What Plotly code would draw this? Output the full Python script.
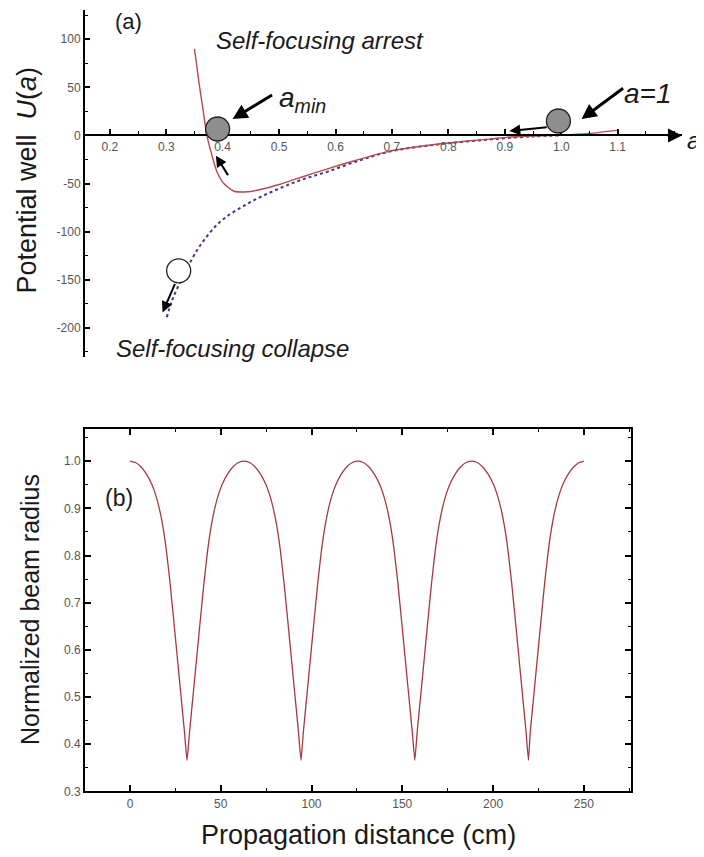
import plotly.graph_objects as go

# ---------------- Panel (a): potential well ----------------
a_red = [0.350, 0.358, 0.365, 0.372, 0.381, 0.390, 0.402, 0.420, 0.444, 0.467, 0.500, 0.526,
         0.560, 0.609, 0.645, 0.698, 0.750, 0.787, 0.840, 0.876, 0.906, 0.950, 1.000, 1.050, 1.100]
U_red = [89.9, 54.8, 27.3, 0.0, -20.8, -38.0, -50.0, -58.0, -58.6, -56.2, -51.0, -46.0,
         -39.5, -30.5, -24.3, -16.0, -11.2, -8.6, -5.5, -3.6, -1.8, -0.6, 0.3, 2.0, 5.5]

a_blue = [0.301, 0.310, 0.325, 0.339, 0.361, 0.396, 0.444, 0.491, 0.538, 0.586, 0.645, 0.698,
          0.787, 0.876, 0.950, 1.000]
U_blue = [-189.0, -172.0, -152.0, -135.6, -113.6, -89.5, -71.0, -57.5, -46.5, -37.6, -25.5, -16.5,
          -9.0, -4.0, -1.0, 0.0]

xa_tickvals = [0.2, 0.3, 0.4, 0.5, 0.6, 0.7, 0.8, 0.9, 1.0, 1.1]
xa_ticktext = ["0.2", "0.3", "0.4", "0.5", "0.6", "0.7", "0.8", "0.9", "1.0", "1.1"]
ya_tickvals = [100, 50, 0, -50, -100, -150, -200]
ya_ticktext = ["100", "50", "0", "-50", "-100", "-150", "-200"]

# ---------------- Panel (b): beam radius ----------------
z_cm = [0, 3, 6, 9, 12, 14, 16, 18, 20, 22, 24, 26, 28, 30, 31.4,
        32.8, 34.8, 36.8, 38.8, 40.8, 42.8, 44.8, 46.8, 48.8, 50.8, 53.8, 56.8, 59.8, 62.8,
        65.8, 68.8, 71.8, 74.8, 76.8, 78.8, 80.8, 82.8, 84.8, 86.8, 88.8, 90.8, 92.8, 94.2,
        95.5, 97.5, 99.5, 101.5, 103.5, 105.5, 107.5, 109.5, 111.5, 113.5, 116.5, 119.5, 122.5, 125.5,
        128.5, 131.5, 134.5, 137.5, 139.5, 141.5, 143.5, 145.5, 147.5, 149.5, 151.5, 153.5, 155.5, 156.9,
        158.2, 160.2, 162.2, 164.2, 166.2, 168.2, 170.2, 172.2, 174.2, 176.2, 179.2, 182.2, 185.2, 188.2,
        191.2, 194.2, 197.2, 200.2, 202.2, 204.2, 206.2, 208.2, 210.2, 212.2, 214.2, 216.2, 218.2, 219.5,
        220.5, 222.5, 224.5, 226.5, 228.5, 230.5, 232.5, 234.5, 236.5, 238.5, 241.5, 244.5, 247.5, 250]
radius = [1.0, 0.997, 0.988, 0.973, 0.951, 0.930, 0.902, 0.864, 0.812, 0.744, 0.666, 0.586, 0.506, 0.426, 0.366,
          0.426, 0.506, 0.586, 0.666, 0.744, 0.812, 0.864, 0.902, 0.930, 0.951, 0.973, 0.988, 0.997, 1.0,
          0.997, 0.988, 0.973, 0.951, 0.930, 0.902, 0.864, 0.812, 0.744, 0.666, 0.586, 0.506, 0.426, 0.366,
          0.426, 0.506, 0.586, 0.666, 0.744, 0.812, 0.864, 0.902, 0.930, 0.951, 0.973, 0.988, 0.997, 1.0,
          0.997, 0.988, 0.973, 0.951, 0.930, 0.902, 0.864, 0.812, 0.744, 0.666, 0.586, 0.506, 0.426, 0.366,
          0.426, 0.506, 0.586, 0.666, 0.744, 0.812, 0.864, 0.902, 0.930, 0.951, 0.973, 0.988, 0.997, 1.0,
          0.997, 0.988, 0.973, 0.951, 0.930, 0.902, 0.864, 0.812, 0.744, 0.666, 0.586, 0.506, 0.426, 0.366,
          0.426, 0.506, 0.586, 0.666, 0.744, 0.812, 0.864, 0.902, 0.930, 0.951, 0.973, 0.988, 0.997, 1.0]

xb_tickvals = [0, 50, 100, 150, 200, 250]
xb_ticktext = ["0", "50", "100", "150", "200", "250"]
yb_tickvals = [0.3, 0.4, 0.5, 0.6, 0.7, 0.8, 0.9, 1.0]
yb_ticktext = ["0.3", "0.4", "0.5", "0.6", "0.7", "0.8", "0.9", "1.0"]

# the page body has an 8 px default margin, so the figure is made 8 px smaller
OFF = 8
W, H = 704 - OFF, 857 - OFF
FONT = "Liberation Sans, Arial, sans-serif"


def px(x):
    return (x - OFF) / W


def py(y):
    return 1 - (y - OFF) / H


fig = go.Figure()

fig.add_trace(go.Scatter(x=a_blue, y=U_blue, mode="lines", xaxis="x", yaxis="y",
                         line=dict(color="#3a3a8e", width=2.0, dash="dot", shape="spline"),
                         showlegend=False))
fig.add_trace(go.Scatter(x=a_red, y=U_red, mode="lines", xaxis="x", yaxis="y",
                         line=dict(color="#b84a4f", width=1.4, shape="spline", smoothing=0.6),
                         showlegend=False))
fig.add_trace(go.Scatter(x=z_cm, y=radius, mode="lines", xaxis="x2", yaxis="y2",
                         line=dict(color="#a43a3d", width=1.3, shape="spline", smoothing=0.4),
                         showlegend=False))

tickfont = dict(family=FONT, size=12, color="#555555")

fig.update_layout(
    width=W, height=H,
    margin=dict(l=0, r=0, t=0, b=0),
    paper_bgcolor="white", plot_bgcolor="white",
    font=dict(family=FONT, color="#1a1a1a"),
    xaxis=dict(domain=[px(85), px(682)], range=[0.156, 1.214], anchor="free",
               position=py(136.5), showline=True, linecolor="black", linewidth=2,
               ticks="inside", ticklen=5, tickwidth=1.5, tickcolor="black",
               tickvals=xa_tickvals, ticktext=xa_ticktext, tickfont=tickfont,
               minor=dict(ticks="inside", ticklen=3, tickwidth=1, tickcolor="black",
                          dtick=0.05, tick0=0.0),
               showgrid=False, zeroline=False),
    yaxis=dict(domain=[py(360), py(10)], range=[-230.4, 130.4], anchor="x",
               showline=True, linecolor="black", linewidth=2,
               ticks="inside", ticklen=5, tickwidth=1.5, tickcolor="black",
               tickvals=ya_tickvals, ticktext=ya_ticktext, tickfont=tickfont,
               minor=dict(ticks="inside", ticklen=3, tickwidth=1, tickcolor="black",
                          dtick=25, tick0=0),
               showgrid=False, zeroline=False),
    xaxis2=dict(domain=[px(85), px(631)], range=[-24.8, 276], anchor="y2",
                showline=True, mirror="ticks", linecolor="black", linewidth=2,
                ticks="inside", ticklen=6, tickwidth=1.5, tickcolor="black",
                tickvals=xb_tickvals, ticktext=xb_ticktext, tickfont=tickfont,
                minor=dict(ticks="inside", ticklen=3, tickwidth=1, tickcolor="black",
                           dtick=25, tick0=0),
                showgrid=False, zeroline=False),
    yaxis2=dict(domain=[py(798), py(433)], range=[0.3, 1.067], anchor="x2",
                showline=True, mirror="ticks", linecolor="black", linewidth=2,
                ticks="inside", ticklen=6, tickwidth=1.5, tickcolor="black",
                tickvals=yb_tickvals, ticktext=yb_ticktext, tickfont=tickfont,
                minor=dict(ticks="inside", ticklen=3, tickwidth=1, tickcolor="black",
                           dtick=0.05, tick0=0.3),
                showgrid=False, zeroline=False),
)


# balls on the potential curve
def ball(xc, yc, fill):
    fig.add_shape(type="circle", xref="x", yref="y", xsizemode="pixel", ysizemode="pixel",
                  xanchor=xc, yanchor=yc, x0=-12, x1=12, y0=-12, y1=12,
                  fillcolor=fill, line=dict(color="#222222", width=1.3), layer="above")


ball(0.391, 6.7, "#8e8e8e")
ball(0.995, 15.0, "#8e8e8e")
ball(0.322, -140.7, "white")


# arrows
def arrow(xh, yh, axp, ayp, w=3, size=1.0):
    fig.add_annotation(x=xh, y=yh, xref="x", yref="y", ax=axp, ay=ayp, text="",
                       showarrow=True, arrowhead=2, arrowsize=size, arrowwidth=w,
                       arrowcolor="black")


arrow(0.4175, 17, 41, -25, w=3, size=1.0)
arrow(1.036, 17, 43, -32, w=3, size=1.0)
arrow(0.908, 4.6, 39, -4, w=2, size=1.1)
arrow(0.388, -21, 13, 21, w=2, size=1.1)
arrow(0.2935, -184, 13, -30, w=2, size=1.1)
# axis arrowhead
arrow(1.214, 0, -16, 0, w=2, size=1.4)


# texts
def text(x, y, s, size, xanchor="center", yanchor="middle", angle=0):
    fig.add_annotation(x=px(x), y=py(y), xref="paper", yref="paper", text=s,
                       showarrow=False, xanchor=xanchor, yanchor=yanchor, textangle=angle,
                       font=dict(family=FONT, size=size, color="#1a1a1a"))


text(113, 22, "(a)", 22, xanchor="left")
text(214, 41, "<i>Self-focusing arrest</i>", 24, xanchor="left")
text(114, 351, "<i>Self-focusing collapse</i>", 24, xanchor="left")
text(277, 100, "<i>a</i><sub><i>min</i></sub>", 28, xanchor="left")
text(622, 94, "<i>a=1</i>", 28, xanchor="left")
text(693, 142, "<i>a</i>", 24)
text(27, 182, "Potential well  <i>U</i>(<i>a</i>)", 27, angle=-90)

text(103, 502, "(b)", 23, xanchor="left")
text(30, 615, "Normalized beam radius", 25, angle=-90)
text(358, 842, "Propagation distance (cm)", 27)

fig.write_html("out.html")
